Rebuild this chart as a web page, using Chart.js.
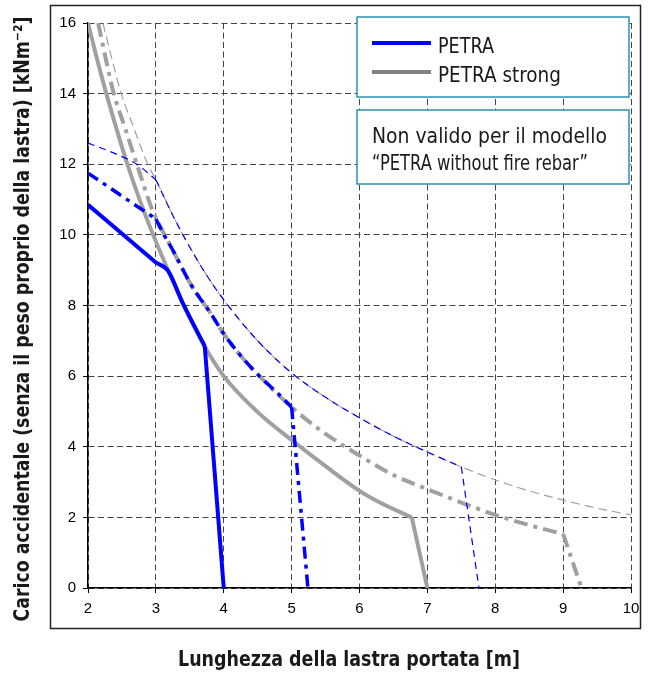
<!DOCTYPE html>
<html>
<head>
<meta charset="utf-8">
<script src="https://cdn.jsdelivr.net/npm/chart.js@4/dist/chart.umd.min.js"></script>
<style>
  html, body { margin: 0; padding: 0; background: #fff; }
  #wrap { width: 652px; height: 673px; position: relative; }
</style>
</head>
<body>
<div id="wrap"><canvas id="c"></canvas></div>
<script>
// ---------- data ----------
const xTicks = [2, 3, 4, 5, 6, 7, 8, 9, 10];
const yTicks = [0, 2, 4, 6, 8, 10, 12, 14, 16];

// PETRA (blue, solid thick)
const petraSolidX = [2.0, 3.0, 3.18, 3.4, 3.72, 4.0];
const petraSolidY = [10.85, 9.22, 8.98, 8.05, 6.85, 0.0];
const petraSolidKinks = [1, 4];
// PETRA (blue, dash-dot)
const petraDashDotX = [2.0, 3.0, 3.12, 3.24, 3.53, 3.8, 4.0, 4.24, 4.5, 4.83, 5.0, 5.24];
const petraDashDotY = [11.75, 10.45, 10.0, 9.6, 8.55, 7.8, 7.2, 6.6, 6.05, 5.45, 5.12, 0.0];
const petraDashDotKinks = [1, 10];
// PETRA (blue, thin dashed)
const petraDashX = [2.0, 2.4, 2.72, 3.0, 3.25, 3.5, 3.75, 4.0, 4.5, 5.0, 5.5, 6.0, 6.5, 7.0, 7.5, 7.76];
const petraDashY = [12.6, 12.3, 12.0, 11.56, 10.55, 9.65, 8.85, 8.16, 7.0, 6.09, 5.4, 4.82, 4.3, 3.85, 3.43, 0.0];
const petraDashKinks = [3, 14];

// PETRA strong (gray, solid thick)
const strongSolidX = [2.0, 2.13, 2.27, 2.42, 2.58, 2.76, 2.96, 3.18, 3.4, 3.7, 4.0, 4.5, 5.0, 5.5, 6.0, 6.3, 6.77, 7.0];
const strongSolidY = [16.0, 15.0, 14.0, 13.0, 12.0, 11.0, 10.0, 9.0, 8.05, 6.9, 6.0, 4.98, 4.19, 3.45, 2.75, 2.42, 2.0, 0.0];
const strongSolidKinks = [16];
// PETRA strong (gray, dash-dot)
const strongDashDotX = [2.15, 2.26, 2.38, 2.55, 2.72, 2.94, 3.24, 3.53, 3.8, 4.0, 4.24, 4.5, 5.0, 5.46, 6.0, 6.5, 7.0, 7.5, 8.0, 8.5, 9.0, 9.27];
const strongDashDotY = [16.0, 15.0, 14.0, 13.0, 12.0, 10.75, 9.6, 8.55, 7.8, 7.2, 6.6, 6.05, 5.12, 4.42, 3.75, 3.2, 2.8, 2.42, 2.07, 1.78, 1.53, 0.0];
const strongDashDotKinks = [20];
// PETRA strong (gray, thin dashed)
const strongDashX = [2.22, 2.35, 2.49, 2.68, 2.88, 3.0, 3.25, 3.5, 3.75, 4.0, 4.5, 5.0, 5.5, 6.0, 6.5, 7.0, 7.5, 8.0, 8.5, 9.0, 9.5, 10.0];
const strongDashY = [16.0, 15.0, 14.0, 13.0, 12.0, 11.56, 10.55, 9.65, 8.85, 8.16, 7.0, 6.09, 5.4, 4.82, 4.3, 3.85, 3.43, 3.06, 2.75, 2.49, 2.26, 2.07];
const strongDashKinks = [];

const legendLabels = ['PETRA', 'PETRA strong'];
const noteLines = ['Non valido per il modello', '\u201CPETRA without fire rebar\u201D'];
const xTitle = 'Lunghezza della lastra portata [m]';
const yTitle = 'Carico accidentale (senza il peso proprio della lastra) [kNm\u207B\u00B2]';

// ---------- helpers ----------
function pts(xs, ys) { return xs.map((x, i) => ({ x: x, y: ys[i] })); }
// split a series at its sharp corners so smooth parts stay smooth and corners stay sharp
function pieces(xs, ys, kinks) {
  const all = pts(xs, ys);
  const cuts = [0].concat(kinks, [all.length - 1]);
  const out = [];
  for (let i = 0; i < cuts.length - 1; i++) out.push(all.slice(cuts[i], cuts[i + 1] + 1));
  return out;
}

function pickFont(cands) {
  const c = document.createElement('canvas').getContext('2d');
  const probe = 'mmmmwwwiiilNoPETRA';
  for (const f of cands) {
    for (const base of ['monospace', 'serif']) {
      c.font = '40px ' + base;
      const w0 = c.measureText(probe).width;
      c.font = '40px "' + f + '", ' + base;
      if (Math.abs(c.measureText(probe).width - w0) > 0.5) return f;
    }
  }
  return 'sans-serif';
}
const condFont = pickFont(['Liberation Sans Narrow', 'DejaVu Sans Condensed', 'Roboto Condensed', 'Open Sans', 'Roboto']);
const tickFont = pickFont(['Liberation Sans', 'Arial', 'DejaVu Sans']);

function fitText(ctx, text, x, y, width, font, align) {
  ctx.save();
  ctx.font = font;
  const w = ctx.measureText(text).width;
  const sx = width / w;
  ctx.translate(x, y);
  ctx.scale(sx, 1);
  ctx.textBaseline = 'alphabetic';
  ctx.textAlign = 'left';
  const off = align === 'center' ? -w / 2 : 0;
  ctx.fillText(text, off, 0);
  ctx.restore();
}

const BLUE = '#0000ff';
const GRAY = '#a0a0a0';

const decor = {
  id: 'decor',
  beforeDraw(chart) {
    const ctx = chart.ctx;
    ctx.save();
    ctx.fillStyle = '#fff';
    ctx.fillRect(0, 0, chart.width, chart.height);
    ctx.restore();
  },
  afterDraw(chart) {
    const ctx = chart.ctx;
    const a = chart.chartArea;
    ctx.save();
    // outer frame
    ctx.strokeStyle = '#222';
    ctx.lineWidth = 1.5;
    ctx.strokeRect(a.left - 37.5, a.top - 17.5, (a.right + 9.5) - (a.left - 37.5), (a.bottom + 40.5) - (a.top - 17.5));

    // legend boxes
    const bx = a.right - 274, bw = 272;
    ctx.fillStyle = '#fff';
    ctx.strokeStyle = '#2b8fb2';
    ctx.lineWidth = 1.5;
    ctx.fillRect(bx, a.top - 6, bw, 80);
    ctx.strokeRect(bx, a.top - 6, bw, 80);
    ctx.fillRect(bx, a.top + 87, bw, 74);
    ctx.strokeRect(bx, a.top + 87, bw, 74);

    ctx.lineWidth = 4;
    ctx.lineCap = 'butt';
    ctx.strokeStyle = BLUE;
    ctx.beginPath(); ctx.moveTo(bx + 15, a.top + 20); ctx.lineTo(bx + 74, a.top + 20); ctx.stroke();
    ctx.strokeStyle = '#808080';
    ctx.beginPath(); ctx.moveTo(bx + 15, a.top + 49); ctx.lineTo(bx + 74, a.top + 49); ctx.stroke();

    ctx.fillStyle = '#1a1a1a';
    const lf = '22px "' + condFont + '"';
    fitText(ctx, legendLabels[0], bx + 81, a.top + 30, 56, lf, 'left');
    fitText(ctx, legendLabels[1], bx + 81, a.top + 58.5, 123, lf, 'left');
    fitText(ctx, noteLines[0], bx + 15, a.top + 120, 235, lf, 'left');
    fitText(ctx, noteLines[1], bx + 15, a.top + 147, 216, '21px "' + condFont + '"', 'left');

    // axis titles
    const tf = 'bold 22px "' + condFont + '"';
    fitText(ctx, xTitle, a.left + 261, a.bottom + 78, 342, tf, 'center');
    ctx.save();
    ctx.translate(a.left - 59, a.top + 296);
    ctx.rotate(-Math.PI / 2);
    fitText(ctx, yTitle, 0, 0, 605, tf, 'center');
    ctx.restore();
    ctx.restore();
  }
};

const styles = [
  { label: 'PETRA', x: petraSolidX, y: petraSolidY, k: petraSolidKinks, color: BLUE, w: 4, dash: [] },
  { label: 'PETRA dash-dot', x: petraDashDotX, y: petraDashDotY, k: petraDashDotKinks, color: BLUE, w: 3.5, dash: [12, 6, 4, 6] },
  { label: 'PETRA dashed', x: petraDashX, y: petraDashY, k: petraDashKinks, color: BLUE, w: 1.2, dash: [7, 5] },
  { label: 'PETRA strong', x: strongSolidX, y: strongSolidY, k: strongSolidKinks, color: GRAY, w: 4, dash: [] },
  { label: 'PETRA strong dash-dot', x: strongDashDotX, y: strongDashDotY, k: strongDashDotKinks, color: GRAY, w: 4, dash: [14, 6, 4, 6] },
  { label: 'PETRA strong dashed', x: strongDashX, y: strongDashY, k: strongDashKinks, color: GRAY, w: 1.2, dash: [9, 5] }
];
const datasets = [];
styles.forEach(s => {
  pieces(s.x, s.y, s.k).forEach(d => {
    datasets.push({ label: s.label, data: d, borderColor: s.color, borderWidth: s.w, borderDash: s.dash,
      cubicInterpolationMode: 'monotone' });
  });
});

const gridCommon = { color: '#444', lineWidth: 1, tickLength: 5, tickColor: '#000', drawTicks: true };
const borderCommon = { display: true, color: '#000', width: 1.5, dash: [6, 3.5] };

new Chart(document.getElementById('c'), {
  type: 'line',
  data: { datasets: datasets },
  options: {
    responsive: true,
    maintainAspectRatio: false,
    animation: false,
    layout: { padding: { top: 23, right: 21, left: 0, bottom: 0 } },
    elements: { point: { radius: 0 }, line: { fill: false, borderCapStyle: 'butt' } },
    plugins: { legend: { display: false }, tooltip: { enabled: false } },
    scales: {
      x: {
        type: 'linear', min: xTicks[0], max: xTicks[xTicks.length - 1],
        afterBuildTicks(s) { s.ticks = xTicks.map(v => ({ value: v })); },
        afterFit(s) { s.height = 85; },
        ticks: { font: { family: tickFont, size: 15 }, color: '#000', padding: 7, maxRotation: 0 },
        grid: gridCommon, border: borderCommon
      },
      y: {
        type: 'linear', min: yTicks[0], max: yTicks[yTicks.length - 1],
        afterBuildTicks(s) { s.ticks = yTicks.map(v => ({ value: v })); },
        afterFit(s) { s.width = 88; },
        ticks: { font: { family: tickFont, size: 15 }, color: '#000', padding: 7 },
        grid: gridCommon, border: borderCommon
      }
    }
  },
  plugins: [decor]
});
</script>
</body>
</html>
